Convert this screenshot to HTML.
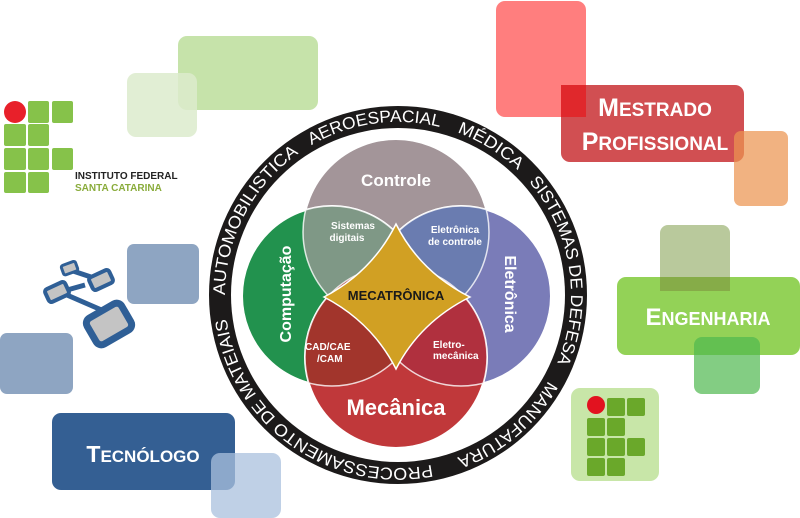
<!DOCTYPE html>
<html><head><meta charset="utf-8"><style>
html,body{margin:0;padding:0;background:#fff}
svg{display:block}
</style></head><body>
<svg width="800" height="518" viewBox="0 0 800 518" xmlns="http://www.w3.org/2000/svg" font-family="Liberation Sans, DejaVu Sans, sans-serif">
<defs>
<clipPath id="cComp"><circle cx="332" cy="296" r="90"/></clipPath>
<clipPath id="cElet"><circle cx="461" cy="296" r="90"/></clipPath>
<clipPath id="cCtrl"><circle cx="396" cy="232" r="93"/></clipPath>
<clipPath id="cMec"><circle cx="396" cy="357" r="91"/></clipPath>
<path id="ring" d="M225,295 A173,173 0 1 1 571,295 A173,173 0 1 1 225,295"/>
</defs>

<rect x="178" y="36" width="140" height="74" rx="9" fill="#c6e3aa"/>
<rect x="127" y="73" width="70" height="64" rx="9" fill="#dcebcd" opacity="0.85"/>

<circle cx="15" cy="112" r="11" fill="#e8202a"/>
<g fill="#86c24a">
<rect x="28" y="101" width="21" height="22" rx="2"/><rect x="52" y="101" width="21" height="22" rx="2"/>
<rect x="4" y="124" width="22" height="22" rx="2"/><rect x="28" y="124" width="21" height="22" rx="2"/>
<rect x="4" y="148" width="22" height="22" rx="2"/><rect x="28" y="148" width="21" height="22" rx="2"/><rect x="52" y="148" width="21" height="22" rx="2"/>
<rect x="4" y="172" width="22" height="21" rx="2"/><rect x="28" y="172" width="21" height="21" rx="2"/>
</g>
<text x="75" y="179" font-size="10" font-weight="bold" fill="#222">INSTITUTO FEDERAL</text>
<text x="75" y="191" font-size="10" font-weight="bold" fill="#8aac3c">SANTA CATARINA</text>

<rect x="127" y="244" width="72" height="60" rx="7" fill="#8ea5c2"/>
<rect x="0" y="333" width="73" height="61" rx="7" fill="#8ea5c2"/>
<g stroke="#2f5f96" stroke-width="5" fill="none">
<line x1="70" y1="270" x2="100" y2="280"/><line x1="60" y1="292" x2="120" y2="318"/><line x1="85" y1="285" x2="60" y2="292"/>
</g>
<g stroke="#2f5f96" fill="#c4c4c4">
<rect x="62" y="263" width="15" height="10" rx="2" stroke-width="3" transform="rotate(-20 70 268)"/>
<rect x="90" y="273" width="22" height="14" rx="3" stroke-width="4" transform="rotate(-25 101 280)"/>
<rect x="46" y="285" width="22" height="14" rx="3" stroke-width="4" transform="rotate(-25 57 292)"/>
<rect x="89" y="309" width="40" height="30" rx="6" stroke-width="7" transform="rotate(-30 109 324)"/>
</g>

<rect x="52" y="413" width="183" height="77" rx="9" fill="#345f93"/>
<text x="143" y="462" text-anchor="middle" font-weight="bold" fill="#fff" font-size="17"><tspan font-size="23">T</tspan>ECNÓLOGO</text>
<rect x="211" y="453" width="70" height="65" rx="9" fill="#a9c0de" opacity="0.75"/>

<rect x="496" y="1" width="90" height="116" rx="9" fill="#ff7e7e"/>
<rect x="561" y="85" width="183" height="77" rx="9" fill="#d0494c" opacity="0.97"/>
<rect x="561" y="85" width="25" height="32" fill="#e0282c"/>
<text x="655" y="116" text-anchor="middle" font-weight="bold" fill="#fff" font-size="19"><tspan font-size="25">M</tspan>ESTRADO</text>
<text x="655" y="150" text-anchor="middle" font-weight="bold" fill="#fff" font-size="19"><tspan font-size="25">P</tspan>ROFISSIONAL</text>
<rect x="734" y="131" width="54" height="75" rx="7" fill="#eb9450" opacity="0.72"/>

<rect x="660" y="225" width="70" height="66" rx="8" fill="#b9c99c"/>
<rect x="617" y="277" width="183" height="78" rx="9" fill="#8dd04e" opacity="0.95"/>
<rect x="660" y="277" width="70" height="14" fill="#86ac48"/>
<text x="708" y="325" text-anchor="middle" font-weight="bold" fill="#fff" font-size="18"><tspan font-size="24">E</tspan>NGENHARIA</text>
<rect x="694" y="337" width="66" height="57" rx="8" fill="#4fb84f" opacity="0.7"/>

<rect x="571" y="388" width="88" height="93" rx="9" fill="#c8e6a8"/>
<circle cx="596" cy="405" r="9" fill="#e2121f"/>
<g fill="#6aa82a">
<rect x="607" y="398" width="18" height="18" rx="2"/><rect x="627" y="398" width="18" height="18" rx="2"/>
<rect x="587" y="418" width="18" height="18" rx="2"/><rect x="607" y="418" width="18" height="18" rx="2"/>
<rect x="587" y="438" width="18" height="18" rx="2"/><rect x="607" y="438" width="18" height="18" rx="2"/><rect x="627" y="438" width="18" height="18" rx="2"/>
<rect x="587" y="458" width="18" height="18" rx="2"/><rect x="607" y="458" width="18" height="18" rx="2"/>
</g>

<circle cx="398" cy="295" r="189" fill="#1c1a1a"/>
<circle cx="398" cy="295" r="167" fill="#fff"/>
<g fill="#fff" font-size="17">
<text><textPath href="#ring" startOffset="0" textLength="166" lengthAdjust="spacingAndGlyphs">AUTOMOBILISTICA</textPath></text>
<text><textPath href="#ring" startOffset="181" textLength="133" lengthAdjust="spacingAndGlyphs">AEROESPACIAL</textPath></text>
<text><textPath href="#ring" startOffset="332" textLength="72" lengthAdjust="spacingAndGlyphs">MÉDICA</textPath></text>
<text><textPath href="#ring" startOffset="420" textLength="193" lengthAdjust="spacingAndGlyphs">SISTEMAS DE DEFESA</textPath></text>
<text><textPath href="#ring" startOffset="633" textLength="122" lengthAdjust="spacingAndGlyphs">MANUFATURA</textPath></text>
<text><textPath href="#ring" startOffset="781" textLength="282" lengthAdjust="spacingAndGlyphs">PROCESSAMENTO DE MATEIAIS</textPath></text>
</g>

<g stroke="#fff" stroke-width="2">
<circle cx="396" cy="232" r="93" fill="#a39599"/>
<circle cx="332" cy="296" r="90" fill="#22924e"/>
<circle cx="461" cy="296" r="90" fill="#7a7cb8"/>
<circle cx="396" cy="357" r="91" fill="#c0383a"/>
</g>
<g clip-path="url(#cCtrl)"><circle cx="332" cy="296" r="90" fill="#7f9886"/><circle cx="461" cy="296" r="90" fill="#6a7cb0"/></g>
<g clip-path="url(#cMec)"><circle cx="332" cy="296" r="90" fill="#a2352c"/><circle cx="461" cy="296" r="90" fill="#b0303e"/></g>
<g fill="none" stroke="#fff" stroke-width="1.5" opacity="0.8">
<circle cx="396" cy="232" r="93"/><circle cx="332" cy="296" r="90"/><circle cx="461" cy="296" r="90"/><circle cx="396" cy="357" r="91"/>
</g>
<path d="M396,224 Q420,272 470,297 Q420,322 396,369 Q372,322 324,297 Q372,272 396,224 Z" fill="#d1a023" stroke="#fff" stroke-width="1.5"/>

<g font-weight="bold" fill="#fff" text-anchor="middle">
<text x="396" y="186" font-size="17">Controle</text>
<text x="396" y="415" font-size="22">Mecânica</text>
<text x="353" y="229" font-size="10">Sistemas</text>
<text x="347" y="241" font-size="10">digitais</text>
<text x="455" y="233" font-size="10">Eletrônica</text>
<text x="455" y="245" font-size="10">de controle</text>
<text x="305" y="350" font-size="10" text-anchor="start">CAD/CAE</text>
<text x="317" y="362" font-size="10" text-anchor="start">/CAM</text>
<text x="433" y="348" font-size="10" text-anchor="start">Eletro-</text>
<text x="433" y="359" font-size="10" text-anchor="start">mecânica</text>
<text transform="translate(291,294) rotate(-90)" font-size="16">Computação</text>
<text transform="translate(505,294) rotate(90)" font-size="16">Eletrônica</text>
</g>
<text x="396" y="300" text-anchor="middle" font-weight="bold" font-size="13" fill="#1a1a1a">MECATRÔNICA</text>
</svg>
</body></html>
